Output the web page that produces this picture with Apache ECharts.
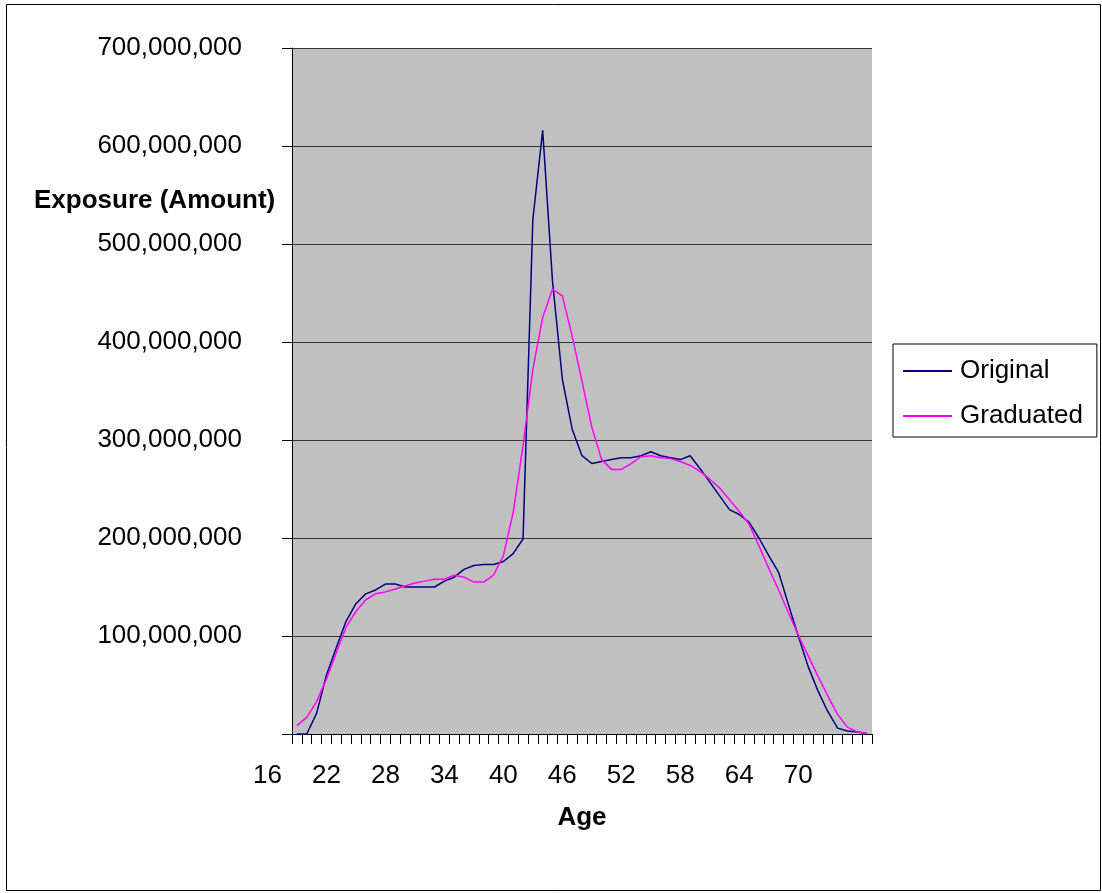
<!DOCTYPE html>
<html><head><meta charset="utf-8">
<script src="https://cdn.jsdelivr.net/npm/echarts@6/dist/echarts.min.js"></script>
<style>html,body{margin:0;padding:0;background:#fff}#c{width:1102px;height:893px}</style>
</head><body><div id="c"></div><script>
// Ages plotted (one category per age)
const ages = [19,20,21,22,23,24,25,26,27,28,29,30,31,32,33,34,35,36,37,38,39,40,41,42,43,44,45,46,47,48,49,50,51,52,53,54,55,56,57,58,59,60,61,62,63,64,65,66,67,68,69,70,71,72,73,74,75,76,77];
// Label axis ages (starts three years earlier, as the reference's label row does)
const labelAges = [16,17,18,19,20,21,22,23,24,25,26,27,28,29,30,31,32,33,34,35,36,37,38,39,40,41,42,43,44,45,46,47,48,49,50,51,52,53,54,55,56,57,58,59,60,61,62,63,64,65,66,67,68,69,70,71,72,73,74,75,76,77];
const xTickLabels = [16,22,28,34,40,46,52,58,64,70];
// Exposure amounts, in millions
const original = [0,0,21,60,88,115,133,143,147,153,153,150,150,150,150,156,160,168,172,173,173,176,184,199,525,616,462,362,311,284,276,278,280,282,282,284,288,284,282,280,284,271,257,243,229,224,216,200,182,165,132,100,69,44,23,6,3,2,0.5];
const graduated = [8.5,17,33,56,83,109,125,137,143,145,148,151,154,156,158,158,162,160,155,155,162,182,226,294,372,425,454,447,406,360,313,280,270,270,276,283,284,282,281,278,274,268,260,251,239,227,214,192,169,147,124,101,80,59,39,20,7,2,0.5];
const yMax = 700, yStep = 100; // millions
const FONT = "'Liberation Sans', Arial, sans-serif";

function fmt(v){ if (v === 0) return ''; return String(Math.round(v*1e6)).replace(/\B(?=(\d{3})+(?!\d))/g, ','); }

const chart = echarts.init(document.getElementById('c'), null, {renderer:'canvas'});
chart.setOption({
  animation: false,
  backgroundColor: '#fff',
  textStyle: {fontFamily: FONT},
  graphic: [{type:'rect', shape:{x:6.5, y:4.5, width:1094, height:886}, style:{fill:'none', stroke:'#000', lineWidth:1}, silent:true}],
  title: {text:'Exposure (Amount)', left:34, top:188, padding:0,
    textStyle:{fontFamily:FONT, fontSize:26, fontWeight:'bold', color:'#000', lineHeight:26}},
  legend: {orient:'vertical', left:893, top:344, padding:[14,14,8,10], itemGap:19,
    itemWidth:49, itemHeight:2, icon:'rect', borderColor:'#000', borderWidth:1, backgroundColor:'#fff',
    textStyle:{fontFamily:FONT, fontSize:26, color:'#000', lineHeight:26, padding:[0,0,0,3]},
    data:['Original','Graduated']},
  grid: [
    {left:292, top:48, width:580, height:686, show:true, backgroundColor:'#C0C0C0', borderWidth:0},
    {left:262.5, top:48, width:609.5, height:686, show:false}
  ],
  xAxis: [
    {gridIndex:0, type:'category', data:ages, boundaryGap:true,
     axisLine:{show:true, lineStyle:{color:'#000', width:1}},
     axisTick:{show:true, interval:0, length:10, inside:false, lineStyle:{color:'#000', width:1}},
     axisLabel:{show:false}, splitLine:{show:false},
     name:'Age', nameLocation:'middle', nameGap:71,
     nameTextStyle:{fontFamily:FONT, fontSize:26, fontWeight:'bold', color:'#000'}},
    {gridIndex:1, type:'category', data:labelAges, boundaryGap:true,
     axisLine:{show:false}, axisTick:{show:false}, splitLine:{show:false},
     axisLabel:{show:true, interval:0, margin:29, hideOverlap:false,
       formatter:function(v){ return xTickLabels.indexOf(Number(v)) >= 0 ? String(v) : ''; },
       fontFamily:FONT, fontSize:26, color:'#000'}}
  ],
  yAxis: [
    {gridIndex:0, type:'value', min:0, max:yMax, interval:yStep,
     axisLine:{show:true, lineStyle:{color:'#000', width:1}},
     axisTick:{show:true, length:10, inside:false, lineStyle:{color:'#000', width:1}},
     axisLabel:{margin:50, formatter:fmt, fontFamily:FONT, fontSize:26, color:'#000'},
     splitLine:{show:true, lineStyle:{color:'#333', width:1}}},
    {gridIndex:1, type:'value', min:0, max:yMax, show:false, splitLine:{show:false}}
  ],
  series: [
    {name:'Original', type:'line', xAxisIndex:0, yAxisIndex:0, data:original, symbol:'none',
     color:'#000080', lineStyle:{color:'#000080', width:1.5}},
    {name:'Graduated', type:'line', xAxisIndex:0, yAxisIndex:0, data:graduated, symbol:'none',
     color:'#FF00FF', lineStyle:{color:'#FF00FF', width:1.5}}
  ]
});
</script></body></html>
